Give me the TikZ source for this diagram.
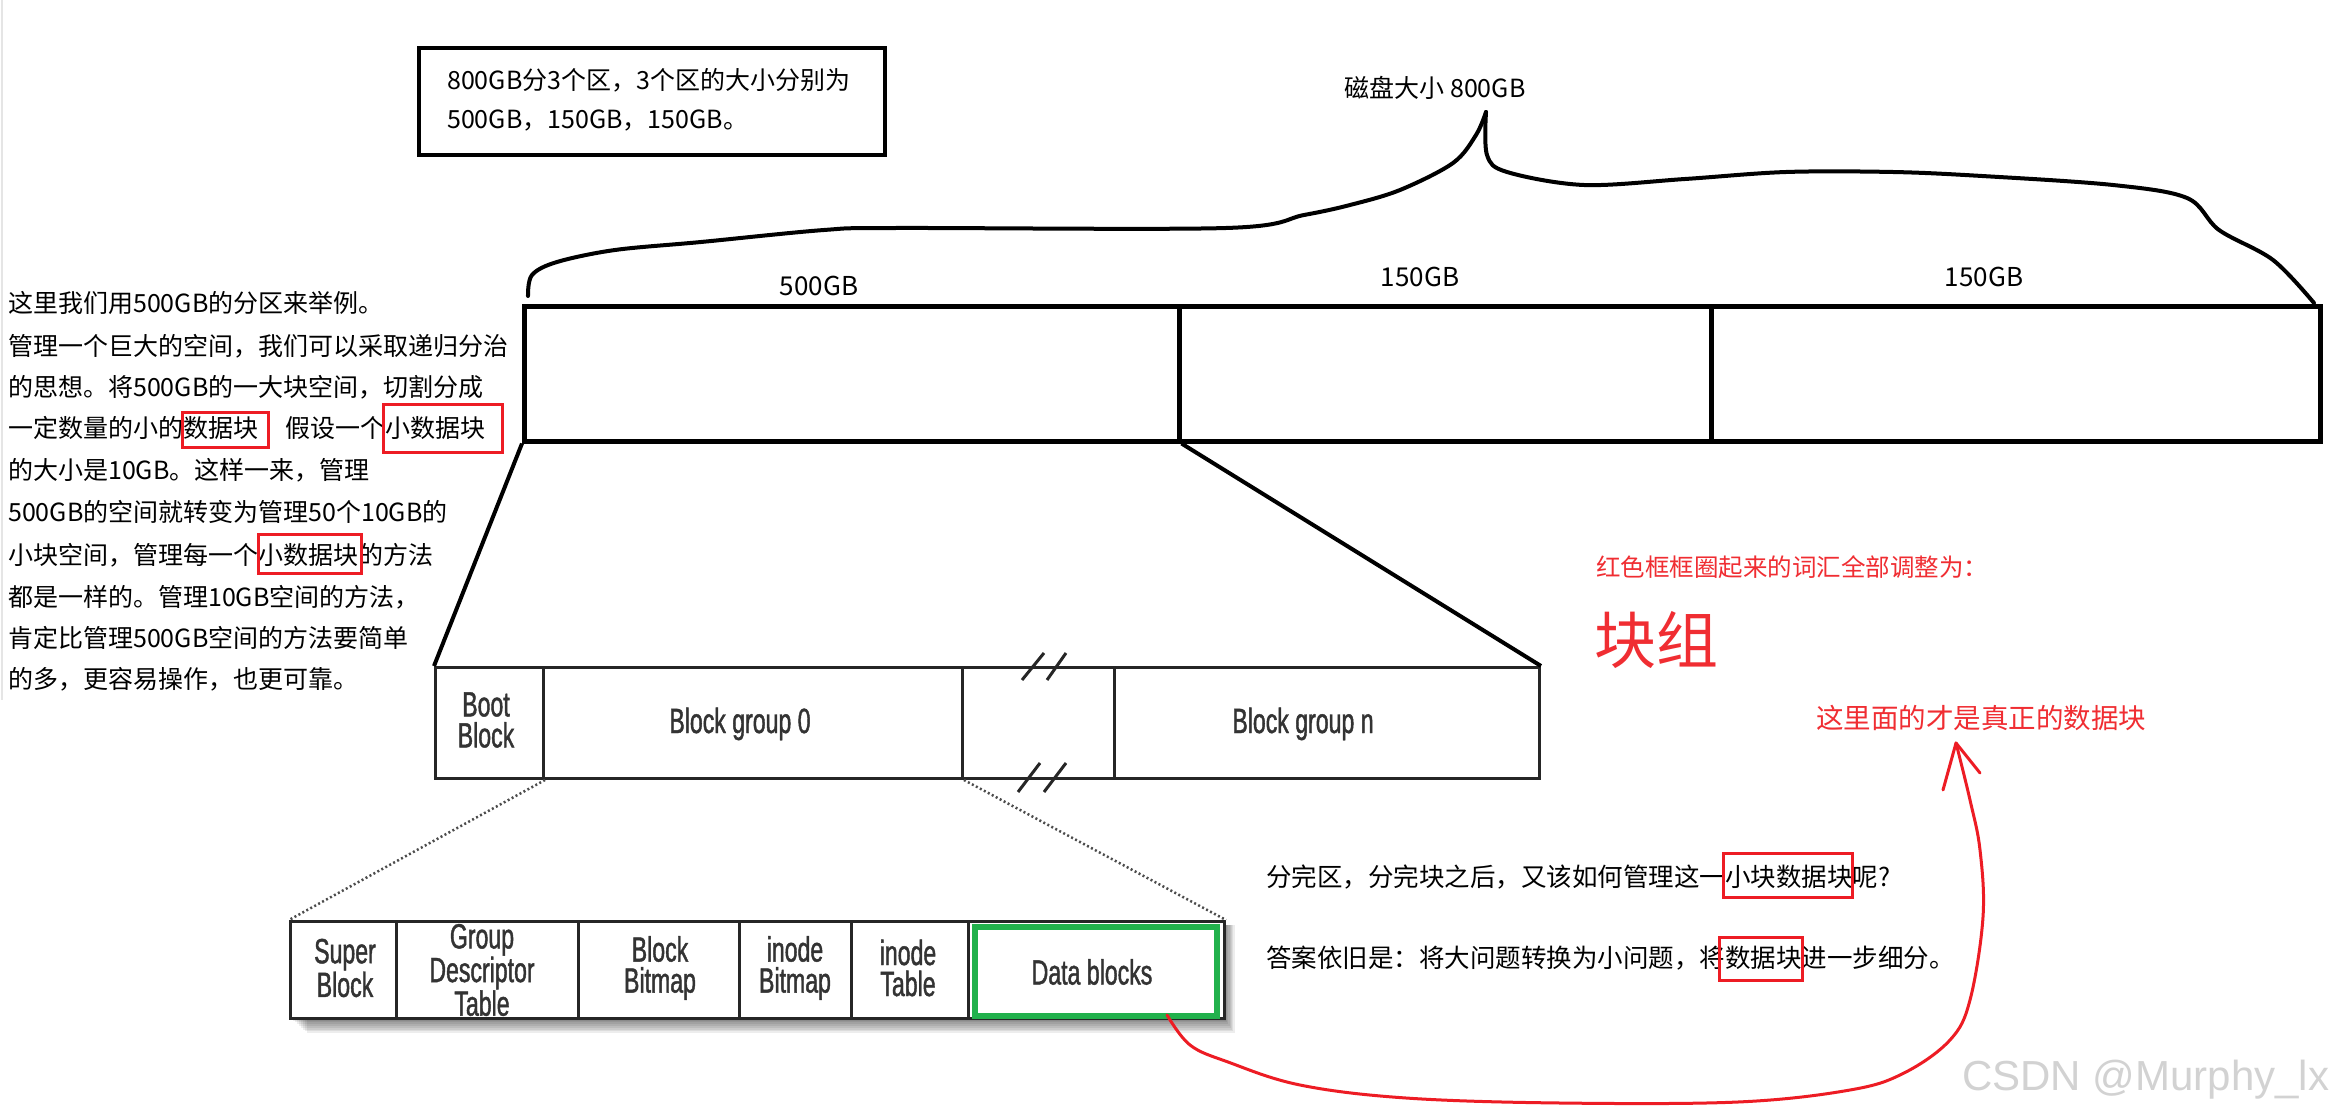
\documentclass[tikz,border=0pt]{standalone}
\usepackage{fontspec}
\setmainfont{Noto Sans CJK SC}
\newfontfamily\condf[FakeStretch=0.66,FakeBold=1.2]{Liberation Sans}
\newfontfamily\wmf{Liberation Sans}
\definecolor{pred}{RGB}{237,28,36}
\definecolor{txtred}{RGB}{240,45,50}
\definecolor{pgreen}{RGB}{34,177,76}
\begin{document}
\begin{tikzpicture}[x=1pt,y=-1pt,
  pcell/.style={draw=black, line width=4.5pt, inner sep=0pt, anchor=north west, minimum height=135pt},
  cell/.style={draw=black!85, fill=white, line width=3pt, inner sep=0pt, anchor=north west},
  lt/.style={anchor=base west, inner sep=0pt, font=\fontsize{25}{30}\selectfont},
  rt/.style={anchor=base west, inner sep=0pt, font=\fontsize{25.5}{30}\selectfont},
  lab/.style={anchor=base, inner sep=0pt, font=\fontsize{26}{30}\selectfont},
  cond/.style={inner sep=0pt, align=center, text=black!80, font=\condf\fontsize{35}{31}\selectfont},
  redbox/.style={draw=pred, line width=3pt},
  dotline/.style={draw=black!70, line width=2.5pt, dash pattern=on 2pt off 2.5pt},
  thick4/.style={line width=4pt, line join=round, line cap=round}
]
\useasboundingbox (0,0) rectangle (2331,1115);
\fill[white] (0,0) rectangle (2331,1115);
\draw[gray!20, line width=1.5pt] (2,0) -- (2,700);

% note box
\draw[line width=4pt] (419,48) rectangle (885,155);
\node[lt] (n1) at (447,89.5) {800GB分3个区，3个区的大小分别为};
\node[lt] (n2) at (447,128.5) {500GB，150GB，150GB。};

% disk size and brace
\node[anchor=base, inner sep=0pt, font=\fontsize{25}{30}\selectfont] (disk) at (1435,97.5) {磁盘大小 800GB};
\draw[thick4] plot[smooth, tension=0.55] coordinates {(528,296) (532,275) (557,262) (615,250) (701,242) (824,230) (896,228) (1226,228) (1304,215) (1350,205) (1400,190) (1453,163) (1476,135) (1486,112)};
\draw[thick4] plot[smooth, tension=0.55] coordinates {(1486,112) (1487,155) (1507,172) (1584,185) (1685,179) (1786,172) (1893,172) (1982,176) (2113,185) (2187,198) (2219,230) (2273,260) (2314,303)};

% partition bar
\node[pcell, minimum width=655pt] (p500) at (522,304) {};
\node[pcell, minimum width=532pt] (p150a) at (1177,304) {};
\node[pcell, minimum width=609pt] (p150b) at (1709,304) {};
\node[lab] (l500) at (819,295) {500GB};
\node[lab] (l150a) at (1420,287) {150GB};
\node[lab] (l150b) at (1984,287) {150GB};

% block group bar
\node[cell, minimum width=108pt, minimum height=111pt] (boot) at (434,666) {};
\node[cell, minimum width=419pt, minimum height=111pt] (bg0) at (542,666) {};
\node[cell, minimum width=152pt, minimum height=111pt] (gap) at (961,666) {};
\node[cell, minimum width=425pt, minimum height=111pt] (bgn) at (1113,666) {};
\draw[line width=3pt, black!85] (1022,680) -- (1044,653) (1047,680) -- (1066,653)
      (1018,792) -- (1040,763) (1044,792) -- (1066,763);
\node[cond] (tboot) at (486,720) {Boot\\Block};
\node[cond, anchor=base] (tbg0) at (740,733) {Block group 0};
\node[cond, anchor=base] (tbgn) at (1303,733) {Block group n};

\draw[line width=4pt] (p500.south west) -- (boot.north west);
\draw[line width=4pt] (p500.south east) -- (bgn.north east);

% lower bar shadow
\foreach \s in {1,...,9} \fill[black, opacity=0.07] ({289+2*\s},925) rectangle ({1223+1.3*\s},{1017+1.8*\s});
\node[cell, minimum width=106pt, minimum height=97pt] (super) at (289,920) {};
\node[cell, minimum width=182pt, minimum height=97pt] (gdt) at (395,920) {};
\node[cell, minimum width=161pt, minimum height=97pt] (bbm) at (577,920) {};
\node[cell, minimum width=112pt, minimum height=97pt] (ibm) at (738,920) {};
\node[cell, minimum width=117pt, minimum height=97pt] (itab) at (850,920) {};
\node[cell, minimum width=256pt, minimum height=97pt] (db) at (967,920) {};
\node[draw=pgreen, line width=6pt, inner sep=0pt, anchor=north west, minimum width=242pt, minimum height=89pt] (gbox) at (972,924) {};
\node[cond] (tsuper) at (345,968) {Super\\Block};
\node[cond] (tgdt) at (482,970) {Group\\Descriptor\\Table};
\node[cond] (tbbm) at (660,968) {Block\\Bitmap};
\node[cond] (tibm) at (795,968) {inode\\Bitmap};
\node[cond] (titab) at (908,968) {inode\\Table};
\node[cond] (tdb) at (1092,972) {Data blocks};

\draw[dotline] (boot.south east) -- (super.north west);
\draw[dotline] (bg0.south east) -- (db.north east);

% left text
\node[lt] (a1) at (8,312.5) {这里我们用500GB的分区来举例。};
\node[lt] (a2) at (8,355.5) {管理一个巨大的空间，我们可以采取递归分治};
\node[lt] (a3) at (8,396.5) {的思想。将500GB的一大块空间，切割分成};
\node[lt] (a4) at (8,437.5) {一定数量的小的数据块\hspace{27pt}假设一个小数据块};
\node[lt] (a5) at (8,479.5) {的大小是10GB。这样一来，管理};
\node[lt] (a6) at (8,521.5) {500GB的空间就转变为管理50个10GB的};
\node[lt] (a7) at (8,564.5) {小块空间，管理每一个小数据块的方法};
\node[lt] (a8) at (8,606.5) {都是一样的。管理10GB空间的方法，};
\node[lt] (a9) at (8,647.5) {肯定比管理500GB空间的方法要简单};
\node[lt] (a10) at (8,688.5) {的多，更容易操作，也更可靠。};
\draw[redbox] (182,412) rectangle (268,447);
\draw[redbox] (383,404) rectangle (502,452);
\draw[redbox] (258,534) rectangle (361,573);

% right text
\node[rt] (q1) at (1266,886.7) {分完区，分完块之后，又该如何管理这一小块数据块呢?};
\node[rt] (q2) at (1266,967.7) {答案依旧是：将大问题转换为小问题，将数据块进一步细分。};
\draw[redbox] (1723,853) rectangle (1852,897);
\draw[redbox] (1719,937) rectangle (1802,980);

% red notes
\node[anchor=base west, inner sep=0pt, text=txtred, font=\fontsize{24.5}{30}\selectfont] (r1) at (1596,576.3) {红色框框圈起来的词汇全部调整为：};
\node[anchor=base west, inner sep=0pt, text=txtred, font=\fontsize{62}{70}\selectfont] (r2) at (1594,663.6) {块组};
\node[anchor=base west, inner sep=0pt, text=txtred, font=\fontsize{27.5}{32}\selectfont] (r3) at (1816,728.5) {这里面的才是真正的数据块};

% red arrow
\coordinate (astart) at (1167,1015);
\coordinate (atip) at (1956,743);
\draw[pred, line width=3pt, line cap=round, line join=round] plot[smooth, tension=0.6] coordinates {(astart) (1190,1045) (1228,1062) (1300,1085) (1406,1098) (1560,1103) (1738,1102) (1850,1090) (1904,1073) (1950,1040) (1970,1000) (1983,917) (1980,850) (1970,800) (atip)};
\draw[pred, line width=3pt, line cap=round, line join=round] (1943,790) -- (atip) -- (1980,773);

% watermark
\node[anchor=base west, inner sep=0pt, text=gray!35, font=\wmf\fontsize{42}{48}\selectfont] (wm) at (1962,1090) {CSDN @Murphy\_lx};
\end{tikzpicture}
\end{document}
